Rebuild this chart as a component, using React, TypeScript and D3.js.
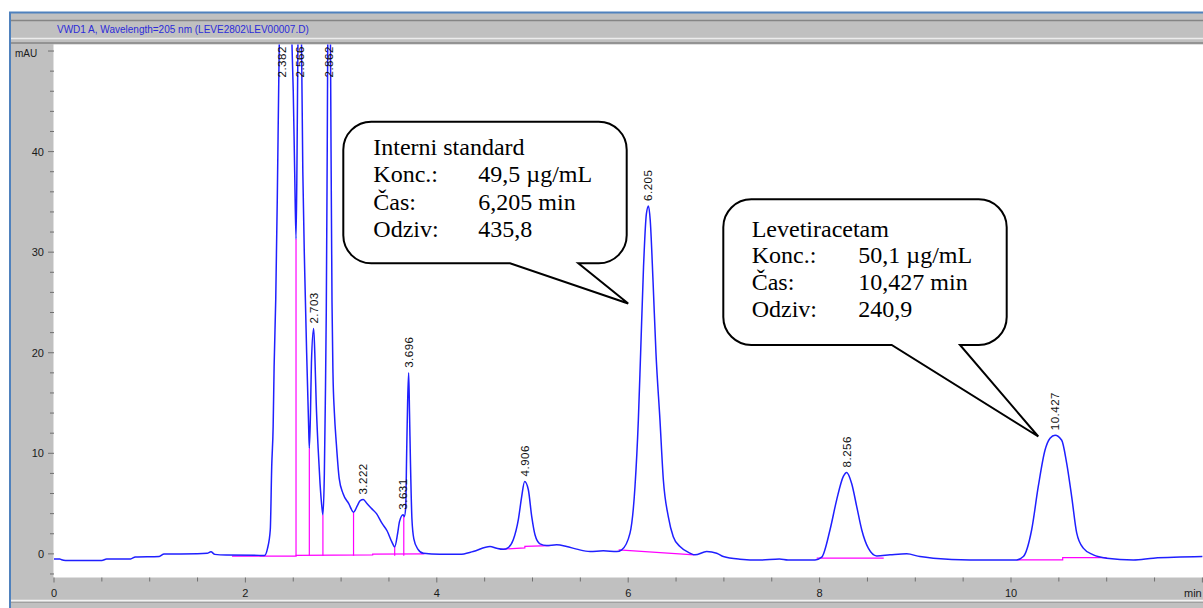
import { useMemo } from "react";
import * as d3 from "d3";

const WIDTH = 1203;
const HEIGHT = 608;
const PLOT = { left: 54, top: 44.5, right: 1203, bottom: 577.5 };

const TITLE = "VWD1 A, Wavelength=205 nm (LEVE2802\\LEV00007.D)";
const Y_UNIT = "mAU";
const X_UNIT = "min";

const xTickLabels = [0, 2, 4, 6, 8, 10];
const yTickLabels = [0, 10, 20, 30, 40];

// detector signal: [time (min), mAU]
const signal: [number, number][] = [
  [0, -0.5], [0.06, -0.5], [0.08, -0.58], [0.12, -0.65], [0.5, -0.65], [0.55, -0.52],
  [0.8, -0.5], [0.85, -0.3], [1.1, -0.25], [1.15, -0.02], [1.5, 0], [1.6, 0.05],
  [1.64, 0.2], [1.68, -0.05], [1.8, -0.12], [2.15, -0.15], [2.2, -0.15], [2.23, 0.5],
  [2.26, 2.4], [2.275, 8.7], [2.29, 12.7], [2.3, 18.6], [2.317, 25.3], [2.333, 35.2],
  [2.35, 48], [2.37, 60], [2.39, 63], [2.42, 61], [2.45, 57], [2.48, 53], [2.5, 46],
  [2.515, 38], [2.529, 31.3], [2.54, 40], [2.55, 52], [2.57, 60], [2.585, 52], [2.6, 38],
  [2.62, 28], [2.64, 20], [2.66, 13], [2.668, 10.5], [2.68, 14], [2.69, 19], [2.713, 22.4],
  [2.725, 20], [2.74, 15], [2.76, 10.5], [2.78, 7], [2.8, 4.6], [2.81, 3.9], [2.825, 8],
  [2.835, 15], [2.845, 24], [2.855, 40], [2.865, 58], [2.88, 62], [2.895, 40], [2.905, 25],
  [2.915, 18], [2.93, 14], [2.95, 11], [2.98, 7.5], [3.02, 6], [3.08, 5.0], [3.13, 4.15],
  [3.17, 4.8], [3.2, 5.3], [3.232, 5.4], [3.27, 5.0], [3.32, 4.5], [3.37, 4.0], [3.43, 3.0],
  [3.48, 2.3], [3.53, 1.2], [3.56, 0.7], [3.59, 2.0], [3.61, 3.2], [3.647, 3.9], [3.66, 3.7],
  [3.675, 4.6], [3.685, 10], [3.695, 15], [3.706, 18], [3.715, 14], [3.725, 9], [3.74, 3.5],
  [3.76, 1.5], [3.8, 0.5], [3.86, 0.05], [4.03, -0.05], [4.24, -0.05], [4.38, 0.23],
  [4.556, 0.73], [4.626, 0.55], [4.695, 0.45], [4.747, 0.63], [4.799, 1.4], [4.852, 3.4],
  [4.887, 5.7], [4.918, 7.2], [4.956, 6.4], [4.992, 3.7], [5.026, 1.9], [5.078, 1.0],
  [5.148, 0.83], [5.253, 0.9], [5.357, 0.73], [5.462, 0.47], [5.601, 0.23], [5.74, 0.3],
  [5.88, 0.23], [5.932, 0.4], [6.019, 2.06], [6.071, 6.7], [6.106, 13.3], [6.13, 20],
  [6.16, 28.5], [6.19, 33.8], [6.212, 34.6], [6.23, 33.2], [6.26, 27], [6.29, 20],
  [6.332, 13.3], [6.367, 7.4], [6.419, 3.7], [6.471, 1.7], [6.541, 0.73], [6.646, 0.07],
  [6.698, -0.1], [6.82, 0.23], [6.925, 0.07], [6.994, -0.27], [7.168, -0.53], [7.377, -0.62],
  [7.58, -0.5], [7.67, -0.6], [7.952, -0.6], [8.022, -0.33], [8.109, 2.4], [8.179, 5.4],
  [8.248, 7.7], [8.283, 8.1], [8.335, 7.0], [8.388, 4.7], [8.44, 2.4], [8.509, 0.57],
  [8.597, -0.2], [8.736, -0.1], [8.91, 0.0], [9.049, -0.27], [9.188, -0.43], [9.572, -0.6],
  [10.06, -0.6], [10.129, -0.27], [10.216, 2.4], [10.285, 6.7], [10.355, 10.3], [10.408, 11.5],
  [10.46, 11.8], [10.53, 11.3], [10.582, 9.0], [10.634, 5.7], [10.687, 2.06], [10.755, 0.57],
  [10.86, -0.1], [11.0, -0.43], [11.278, -0.6], [11.487, -0.43], [12.0, -0.27],
];

// integration baselines (magenta)
const baselines: [number, number][][] = [
  [[1.86, -0.22], [2.53, -0.22], [2.53, -0.15], [3.33, -0.1], [3.33, -0.03], [3.87, 0]],
  [[4.66, 0.45], [4.92, 0.6], [4.92, 0.75], [5.18, 0.82]],
  [[5.9, 0.4], [6.69, -0.1]],
  [[7.97, -0.43], [8.67, -0.43]],
  [[10.06, -0.6], [10.54, -0.6], [10.54, -0.37], [11.0, -0.37]],
];

// drop lines between unresolved peaks
const dropTimes = [2.529, 2.668, 2.81, 3.13, 3.56, 3.655];
const dropTops = [31.3, 10.5, 3.9, 4.15, 0.7, 3.7];
const DROP_BOTTOM = -0.18;

// peak retention time labels
const peakLabels = ["2.382", "2.566", "2.703", "2.862", "3.222", "3.631", "3.696", "4.906", "6.205", "8.256", "10.427"];
const peakTimes = [2.382, 2.57, 2.713, 2.873, 3.232, 3.647, 3.706, 4.918, 6.212, 8.283, 10.46];
const peakHeights = [63, 60, 22.4, 62, 5.4, 3.9, 18, 7.2, 34.6, 8.1, 11.8];

// callout texts
const istdRows = [["Interni standard", ""], ["Konc.:", "49,5 µg/mL"], ["Čas:", "6,205 min"], ["Odziv:", "435,8"]];
const levRows = [["Levetiracetam", ""], ["Konc.:", "50,1 µg/mL"], ["Čas:", "10,427 min"], ["Odziv:", "240,9"]];
const istdTip: [number, number] = [6.0, 24.9];
const levTip: [number, number] = [10.285, 11.67];

const calloutPath = (x0, y0, x1, y1, r, b1, b2, tx, ty) =>
  `M${x0 + r},${y0} H${x1 - r} A${r},${r} 0 0 1 ${x1},${y0 + r} V${y1 - r} A${r},${r} 0 0 1 ${x1 - r},${y1}` +
  ` H${b2} L${tx},${ty} L${b1},${y1} H${x0 + r} A${r},${r} 0 0 1 ${x0},${y1 - r} V${y0 + r} A${r},${r} 0 0 1 ${x0 + r},${y0} Z`;

const Callout = ({ box, rows, tip, xScale, yScale }) => {
  const tx = xScale(tip[0]);
  const ty = yScale(tip[1]);
  return (
    <g>
      <path
        d={calloutPath(box.x0, box.y0, box.x1, box.y1, 28, box.b1, box.b2, tx, ty)}
        fill="white"
        stroke="black"
        strokeWidth={2}
        strokeLinejoin="miter"
      />
      {rows.map((r, i) => (
        <g key={i} fontFamily="'Liberation Serif', 'Times New Roman', serif" fontSize={24} fill="black">
          <text x={box.tx} y={box.ty + i * box.lh}>{r[0]}</text>
          {r[1] && <text x={box.vx} y={box.ty + i * box.lh}>{r[1]}</text>}
        </g>
      ))}
    </g>
  );
};

export default function App() {
  const xScale = useMemo(() => d3.scaleLinear().domain([0, 12]).range([PLOT.left, 1202.4]), []);
  const yScale = useMemo(() => d3.scaleLinear().domain([-2.35, 50.65]).range([PLOT.bottom, PLOT.top]), []);

  const line = d3
    .line<[number, number]>()
    .x((d) => xScale(d[0]))
    .y((d) => yScale(d[1]))
    .curve(d3.curveMonotoneX);
  const segLine = d3
    .line<[number, number]>()
    .x((d) => xScale(d[0]))
    .y((d) => yScale(d[1]));

  const xMinor = d3.range(0, 12.01, 0.5);
  const yMinor = d3.range(-2, 50.1, 2);
  const sans = "'Liberation Sans', Arial, sans-serif";

  return (
    <svg width={WIDTH} height={HEIGHT} style={{ position: "absolute", left: 0, top: 0 }}>
      <rect x={0} y={0} width={WIDTH} height={HEIGHT} fill="white" />
      <rect x={10} y={13} width={WIDTH - 10} height={HEIGHT - 13} fill="#c0c0c0" />
      <line x1={9} x2={WIDTH} y1={12.5} y2={12.5} stroke="#4f81bd" strokeWidth={2} />
      <line x1={10} x2={10} y1={12} y2={HEIGHT} stroke="#4f81bd" strokeWidth={2} />
      <line x1={11} x2={WIDTH} y1={20.5} y2={20.5} stroke="#858585" strokeWidth={1.5} />
      <line x1={11} x2={WIDTH} y1={38.5} y2={38.5} stroke="#ececec" strokeWidth={1.5} />
      <line x1={11} x2={WIDTH} y1={43} y2={43} stroke="#858585" strokeWidth={1.5} />
      <line x1={11} x2={WIDTH} y1={600.5} y2={600.5} stroke="#f2f2f2" strokeWidth={1.5} />
      <line x1={11} x2={WIDTH} y1={602.5} y2={602.5} stroke="#a0a0a0" strokeWidth={1} />

      <text x={57} y={33} fontFamily={sans} fontSize={10} fill="#2b2bd9">{TITLE}</text>

      <rect x={PLOT.left} y={PLOT.top} width={PLOT.right - PLOT.left} height={PLOT.bottom - PLOT.top} fill="white" />
      <line x1={PLOT.left - 0.5} x2={PLOT.left - 0.5} y1={PLOT.top} y2={PLOT.bottom} stroke="#e0e0e0" />

      {/* y axis */}
      {yMinor.map((v) => (
        <line key={v} x1={PLOT.left - (v % 10 === 0 ? 6 : 4)} x2={PLOT.left} y1={yScale(v)} y2={yScale(v)} stroke="#707070" />
      ))}
      {yTickLabels.map((v) => (
        <text key={v} x={44} y={yScale(v)} textAnchor="end" dominantBaseline="central" fontFamily={sans} fontSize={11} fill="#1a1a1a">
          {v}
        </text>
      ))}
      <text x={15} y={57} fontFamily={sans} fontSize={10} fill="#1a1a1a">{Y_UNIT}</text>

      {/* x axis */}
      {xMinor.map((t) => (
        <line key={t} x1={xScale(t)} x2={xScale(t)} y1={PLOT.bottom} y2={PLOT.bottom + (t % 2 === 0 ? 5 : 4)} stroke="#707070" />
      ))}
      {xTickLabels.map((t) => (
        <text key={t} x={xScale(t)} y={597} textAnchor="middle" fontFamily={sans} fontSize={11} fill="#1a1a1a">
          {t}
        </text>
      ))}
      <text x={1184} y={597} fontFamily={sans} fontSize={11} fill="#1a1a1a">{X_UNIT}</text>

      <defs>
        <clipPath id="plotClip">
          <rect x={PLOT.left} y={PLOT.top} width={PLOT.right - PLOT.left} height={PLOT.bottom - PLOT.top} />
        </clipPath>
      </defs>

      <g clipPath="url(#plotClip)">
        {baselines.map((b, i) => (
          <path key={i} d={segLine(b)} fill="none" stroke="#ff00ff" strokeWidth={1.2} />
        ))}
        {dropTimes.map((t, i) => (
          <line key={i} x1={xScale(t)} x2={xScale(t)} y1={yScale(DROP_BOTTOM)} y2={yScale(dropTops[i])} stroke="#ff00ff" strokeWidth={1.2} />
        ))}
        <path d={line(signal)} fill="none" stroke="#1f1fff" strokeWidth={1.5} />
        {peakLabels.map((lab, i) => {
          const x = xScale(peakTimes[i]);
          const yTop = yScale(peakHeights[i]);
          const y = yTop < PLOT.top + 35 ? PLOT.top + 33 : yTop - 5;
          return (
            <text
              key={lab}
              transform={`translate(${x},${y}) rotate(-90)`}
              dominantBaseline="central"
              fontFamily={sans}
              fontSize={11.5}
              letterSpacing={0.5}
              fill="#111"
            >
              {lab}
            </text>
          );
        })}
      </g>

      <Callout
        box={{ x0: 343.3, y0: 121.7, x1: 626.7, y1: 263.3, b1: 510, b2: 578.3, tx: 373.3, vx: 478.3, ty: 155, lh: 27.4 }}
        rows={istdRows}
        tip={istdTip}
        xScale={xScale}
        yScale={yScale}
      />
      <Callout
        box={{ x0: 723.3, y0: 199.3, x1: 1006.7, y1: 345, b1: 891.7, b2: 960, tx: 751.7, vx: 858.3, ty: 236.7, lh: 26.7 }}
        rows={levRows}
        tip={levTip}
        xScale={xScale}
        yScale={yScale}
      />
    </svg>
  );
}
